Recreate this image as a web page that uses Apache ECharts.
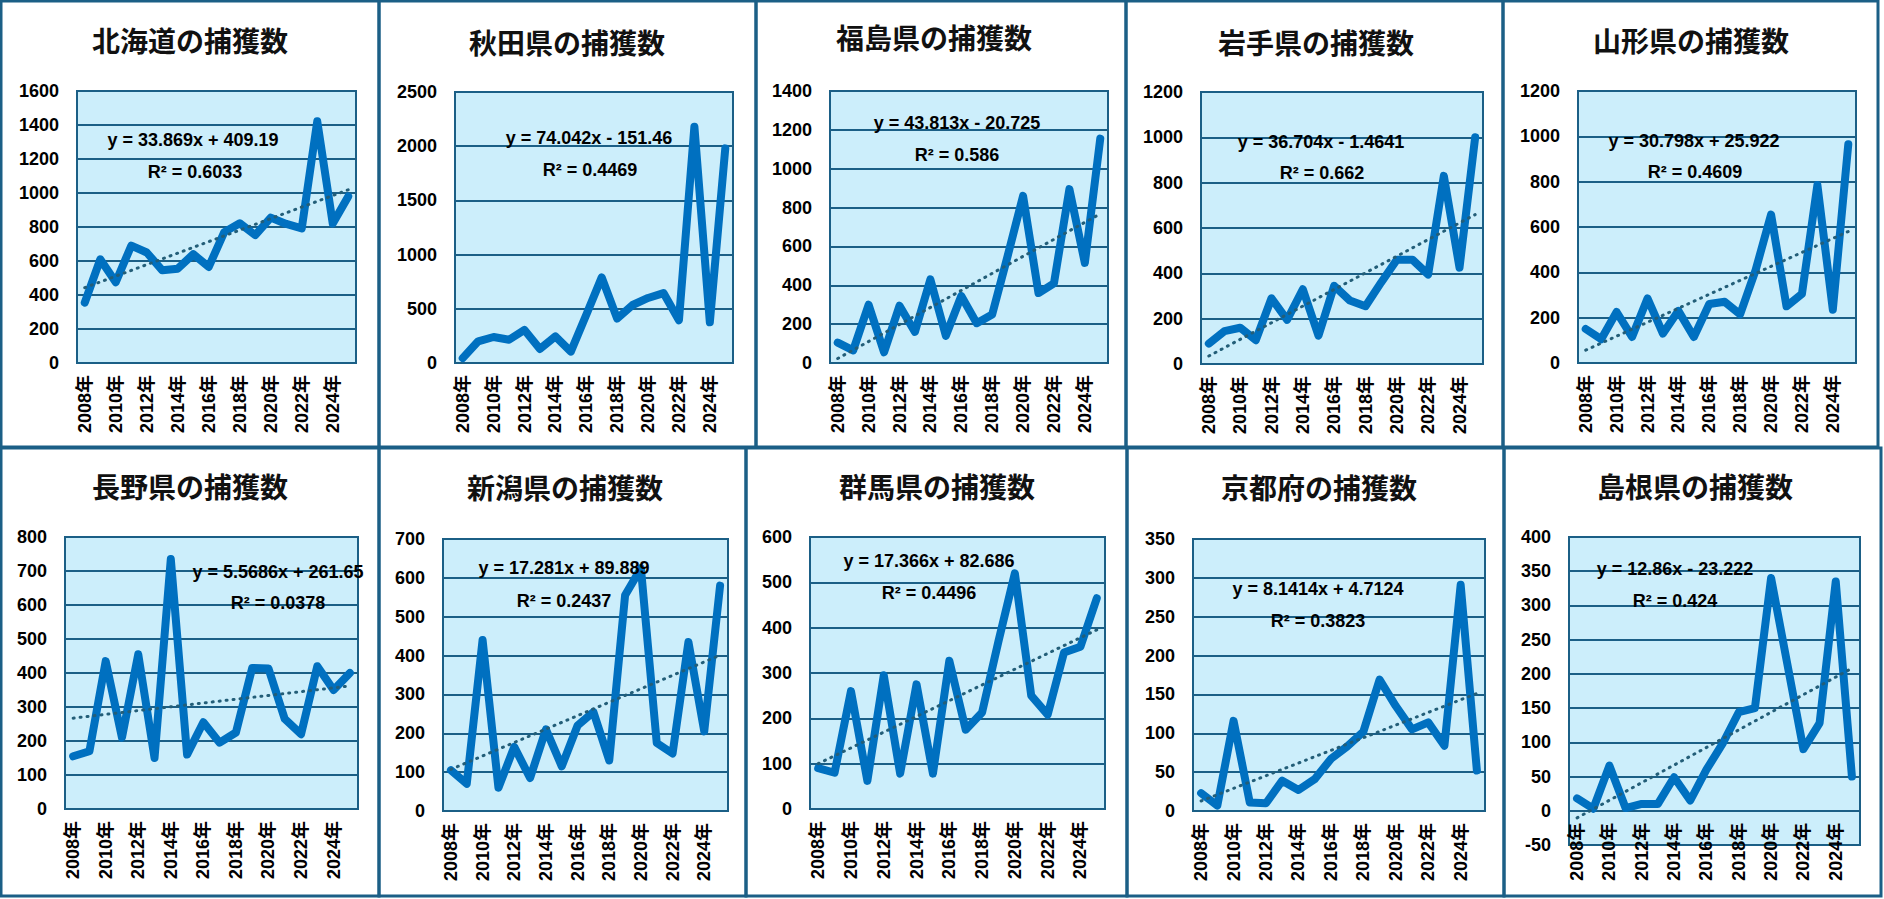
<!DOCTYPE html>
<html>
<head>
<meta charset="utf-8">
<script src="https://cdn.jsdelivr.net/npm/echarts@6/dist/echarts.min.js"></script>
<style>
html,body{margin:0;padding:0;background:#fff;}
#chart{width:1884px;height:899px;}
</style>
</head>
<body>
<div id="chart"></div>
<script>
// ---- data ----
const years = ['2008年','2009年','2010年','2011年','2012年','2013年','2014年','2015年','2016年','2017年','2018年','2019年','2020年','2021年','2022年','2023年','2024年','2025年'];
const titles = ['北海道の捕獲数','秋田県の捕獲数','福島県の捕獲数','岩手県の捕獲数','山形県の捕獲数','長野県の捕獲数','新潟県の捕獲数','群馬県の捕獲数','京都府の捕獲数','島根県の捕獲数'];
const hokkaido  = [355,610,475,690,650,545,555,640,565,770,822,752,855,818,792,1422,820,980];
const akita     = [45,200,240,215,305,130,245,105,445,790,410,535,600,645,395,2180,375,1980];
const fukushima = [105,65,300,55,295,160,430,140,345,205,250,550,860,360,410,895,515,1155];
const iwate     = [90,145,160,105,290,195,330,125,345,280,255,360,460,460,395,830,425,1000];
const yamagata  = [150,105,225,115,285,130,230,115,260,270,215,410,655,250,305,785,235,965];
const nagano    = [155,170,435,210,455,150,735,160,255,195,225,415,413,265,220,420,350,400];
const niigata   = [105,70,440,60,165,85,210,115,220,255,130,555,625,175,148,435,205,580];
const gunma     = [90,80,260,62,295,78,275,78,327,175,213,370,520,250,208,345,358,465];
const kyoto     = [23,7,116,11,10,39,27,41,67,83,102,169,135,105,114,84,291,52];
const shimane   = [18,3,66,4,10,10,49,15,60,98,144,150,340,215,90,128,335,50];
const seriesValues = [hokkaido, akita, fukushima, iwate, yamagata, nagano, niigata, gunma, kyoto, shimane];
// trendline coefficients (as shown in the chart)
const slopes     = [33.869, 74.042, 43.813, 36.704, 30.798, 5.5686, 17.281, 17.366, 8.1414, 12.86];
const intercepts = [409.19, -151.46, -20.725, -1.4641, 25.922, 261.65, 89.889, 82.686, 4.7124, -23.222];
const eqLabels   = ['y = 33.869x + 409.19','y = 74.042x - 151.46','y = 43.813x - 20.725','y = 36.704x - 1.4641','y = 30.798x + 25.922','y = 5.5686x + 261.65','y = 17.281x + 89.889','y = 17.366x + 82.686','y = 8.1414x + 4.7124','y = 12.86x - 23.222'];
const r2Labels   = ['R² = 0.6033','R² = 0.4469','R² = 0.586','R² = 0.662','R² = 0.4609','R² = 0.0378','R² = 0.2437','R² = 0.4496','R² = 0.3823','R² = 0.424'];
// y-axis tick ranges
const yMin  = [0,0,0,0,0,0,0,0,0,-50];
const yMax  = [1600,2500,1400,1200,1200,800,700,600,350,400];
const yStep = [200,500,200,200,200,100,100,100,50,50];

// ---- layout (pixels) ----
const panels = [
  [1,1,378,446],[379,1,377,446],[756,1,370,446],[1126,1,377,446],[1503,1,375,446],
  [1,448,378,448],[379,448,367,448],[746,448,381,448],[1127,448,377,448],[1504,448,377,448]
];
const grids = [
  [77,91,279,272],[455,92,278,271],[830,91,278,272],[1201,92,282,272],[1578,91,278,272],
  [65,537,293,272],[443,539,285,272],[810,537,295,272],[1193,539,292,272],[1569,537,291,308]
];
const titlePos = [[190,40],[567,42],[934,37],[1316,42],[1691,40],[190,486],[565,487],[937,486],[1319,487],[1695,486]];
const eqPos = [[193,140,195,172],[589,138,590,170],[957,123,957,155],[1321,142,1322,173],[1694,141,1695,172],
               [278,572,278,603],[564,568,564,601],[929,561,929,593],[1318,589,1318,621],[1675,569,1675,601]];

const DARK = '#1B5F86';
const LINE = '#0070C0';
const TREND = '#235E78';
const BG = '#CCEEFB';

const chart = echarts.init(document.getElementById('chart'), null, {renderer:'svg'});

const option = {
  animation:false,
  backgroundColor:'#ffffff',
  grid:[], xAxis:[], yAxis:[], series:[], graphic:[]
};

for (let i = 0; i < 10; i++) {
  const g = grids[i];
  option.grid.push({left:g[0], top:g[1], width:g[2], height:g[3], show:true,
    backgroundColor:BG, borderColor:DARK, borderWidth:2, containLabel:false});
  // place the category axis where the value axis crosses zero
  const zeroOffset = yMin[i] < 0 ? -g[3] * (0 - yMin[i]) / (yMax[i] - yMin[i]) : 0;
  option.xAxis.push({type:'category', gridIndex:i, data:years, boundaryGap:true,
    position:'bottom', offset:zeroOffset,
    axisLine:{show:false, onZero:false},
    axisTick:{show:false}, splitLine:{show:false},
    axisLabel:{rotate:90, interval:1, margin:12, fontSize:18, fontWeight:'bold',
      fontFamily:'"Liberation Sans", "Noto Sans CJK JP", sans-serif', color:'#000'}});
  option.yAxis.push({type:'value', gridIndex:i, min:yMin[i], max:yMax[i], interval:yStep[i],
    axisLine:{show:false}, axisTick:{show:false},
    splitLine:{show:true, lineStyle:{color:DARK, width:2}},
    axisLabel:{margin:18, fontSize:18, fontWeight:'bold', fontFamily:'"Liberation Sans", sans-serif', color:'#000',
      formatter:function(v){return String(v);}}});
  const a = slopes[i], b = intercepts[i];
  option.series.push({type:'line', xAxisIndex:i, yAxisIndex:i, data:seriesValues[i],
    showSymbol:false, symbol:'none', emphasis:{disabled:true},
    lineStyle:{color:LINE, width:8, cap:'round', join:'round'},
    markLine:{silent:true, symbol:['none','none'], animation:false, label:{show:false},
      emphasis:{disabled:true},
      lineStyle:{color:TREND, width:3, type:[1,6], cap:'round'},
      data:[[{coord:[years[0], a*1+b]}, {coord:[years[years.length-1], a*years.length+b]}]]}
  });
  const p = panels[i];
  option.graphic.push({type:'rect', silent:true, z:100,
    shape:{x:p[0], y:p[1], width:p[2], height:p[3]},
    style:{fill:'none', stroke:DARK, lineWidth:3}});
  option.graphic.push({type:'text', silent:true, z:100, x:titlePos[i][0], y:titlePos[i][1],
    style:{text:titles[i], font:'bold 28px "Noto Sans CJK JP", sans-serif', fill:'#111',
      textAlign:'center', textVerticalAlign:'middle'}});
  const e = eqPos[i];
  option.graphic.push({type:'text', silent:true, z:100, x:e[0], y:e[1],
    style:{text:eqLabels[i], font:'bold 18px "Liberation Sans", sans-serif', fill:'#000',
      textAlign:'center', textVerticalAlign:'middle'}});
  option.graphic.push({type:'text', silent:true, z:100, x:e[2], y:e[3],
    style:{text:r2Labels[i], font:'bold 18px "Liberation Sans", sans-serif', fill:'#000',
      textAlign:'center', textVerticalAlign:'middle'}});
}

chart.setOption(option);
</script>
</body>
</html>
